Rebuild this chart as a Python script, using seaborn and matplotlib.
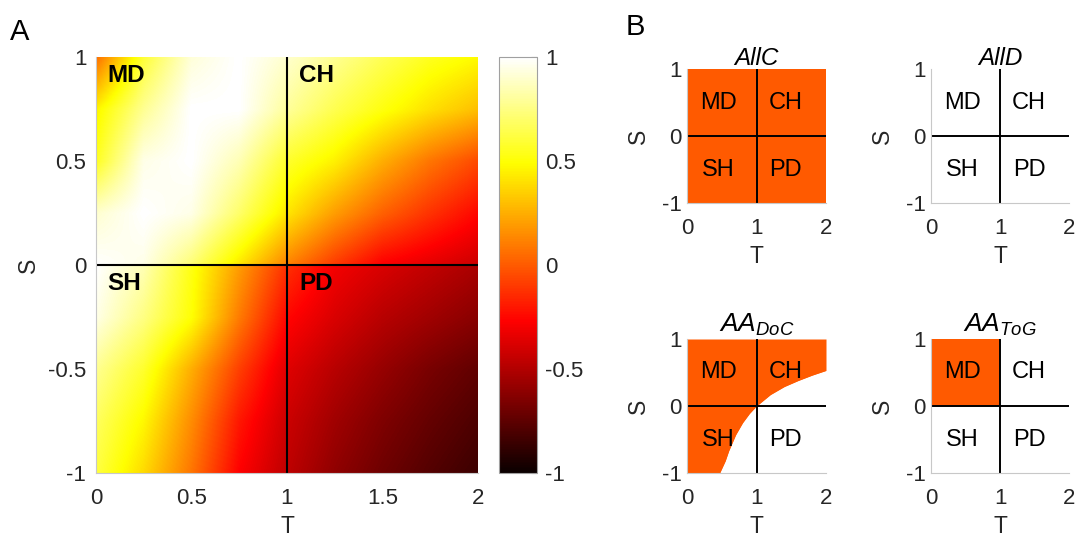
import numpy as np
import pandas as pd
import matplotlib
matplotlib.use("Agg")
import matplotlib.pyplot as plt
from matplotlib.patches import Rectangle
import seaborn as sns

# ---------------- data ----------------
T_nodes = [0.0, 0.25, 0.5, 0.75, 1.0, 1.25, 1.5, 1.75, 2.0]
S_upper = [0.0, 0.25, 0.5, 0.75, 1.0]
S_lower = [-1.0, -0.75, -0.5, -0.25, 0.0]

# values (rows = S, cols = T)
Z_upper = [
    [1.00, 0.95, 0.72, 0.42, 0.12, -0.10, -0.28, -0.35, -0.42],   # S = 0 (+)
    [0.90, 1.00, 0.95, 0.70, 0.42, 0.20, 0.02, -0.12, -0.25],     # S = 0.25
    [0.55, 0.95, 1.00, 0.85, 0.58, 0.45, 0.25, 0.08, -0.05],      # S = 0.5
    [0.45, 0.78, 1.00, 1.00, 0.80, 0.65, 0.52, 0.40, 0.30],       # S = 0.75
    [0.05, 0.60, 0.92, 1.00, 0.90, 0.78, 0.66, 0.55, 0.48],       # S = 1
]
Z_lower = [
    [0.62, 0.38, 0.08, -0.27, -0.46, -0.60, -0.70, -0.78, -0.85], # S = -1
    [0.68, 0.47, 0.15, -0.20, -0.42, -0.55, -0.65, -0.73, -0.80], # S = -0.75
    [0.78, 0.58, 0.25, -0.08, -0.36, -0.48, -0.58, -0.67, -0.74], # S = -0.5
    [0.95, 0.75, 0.50, 0.10, -0.25, -0.38, -0.48, -0.55, -0.62],  # S = -0.25
    [1.00, 0.85, 0.53, 0.20, -0.12, -0.30, -0.38, -0.45, -0.52],  # S = 0 (-)
]

quadrants = ["MD", "CH", "SH", "PD"]
cbar_ticks = [-1, -0.5, 0, 0.5, 1]
cbar_labels = ["-1", "-0.5", "0", "0.5", "1"]

panel_titles = ["AllC", "AllD", r"$AA_{DoC}$", r"$AA_{ToG}$"]
# which quadrants are filled (MD, CH, SH, PD)
allc_fill = [1, 1, 1, 1]
alld_fill = [0, 0, 0, 0]
tog_fill = [1, 0, 0, 0]
# AA_DoC boundary (lower edge of the filled region)
doc_T = [0.0, 0.47, 0.55, 0.6, 0.7, 0.8, 0.9, 1.0, 1.2, 1.4, 1.6, 1.8, 2.0]
doc_S = [-1.0, -1.0, -0.82, -0.67, -0.43, -0.25, -0.11, 0.0, 0.17, 0.29, 0.38, 0.46, 0.53]

# ---------------- style ----------------
sns.set_theme(style="white")
plt.rcParams["font.family"] = ["Liberation Sans", "DejaVu Sans"]
plt.rcParams["mathtext.fontset"] = "custom"
plt.rcParams["mathtext.it"] = "Liberation Sans:italic"
plt.rcParams["mathtext.rm"] = "Liberation Sans"
plt.rcParams["mathtext.bf"] = "Liberation Sans:bold"

TXT = "#262626"
SPINE = "#c8c8c8"
ORANGE = "#ff5a00"
FS_TICK = 16
FS_LAB = 16.5
FS_Q = 17

W, H = 1078, 540
fig = plt.figure(figsize=(W / 100, H / 100), dpi=100)


def rect(x0, y0, x1, y1):
    return [x0 / W, 1 - y1 / H, (x1 - x0) / W, (y1 - y0) / H]


def style_axes(ax, ypad=6):
    for side in ["top", "right"]:
        ax.spines[side].set_visible(False)
    for side in ["left", "bottom"]:
        ax.spines[side].set_color(SPINE)
        ax.spines[side].set_linewidth(0.8)
    ax.tick_params(axis="x", length=0, labelsize=FS_TICK, colors=TXT, pad=11)
    ax.tick_params(axis="y", length=0, labelsize=FS_TICK, colors=TXT, pad=ypad)
    ax.set_facecolor("white")


# ---------------- panel A ----------------
axA = fig.add_axes(rect(96, 57, 478, 473))
dT = T_nodes[1] - T_nodes[0]
dS = S_upper[1] - S_upper[0]
ims = []
for S_rows, Z, y0 in [(S_upper, Z_upper, 0), (S_lower, Z_lower, -1)]:
    im = axA.imshow(np.array(Z), origin="lower", cmap="hot", vmin=-1, vmax=1,
                    interpolation="bilinear", aspect="auto",
                    extent=[T_nodes[0] - dT / 2, T_nodes[-1] + dT / 2,
                            S_rows[0] - dS / 2, S_rows[-1] + dS / 2])
    im.set_clip_path(Rectangle((0, y0), 2, 1, transform=axA.transData))
    ims.append(im)
axA.axvline(1, color="black", lw=1.5)
axA.axhline(0, color="black", lw=1.5)
axA.set_xlim(0, 2)
axA.set_ylim(-1, 1)
axA.set_xticks([0, 0.5, 1, 1.5, 2])
axA.set_xticklabels(["0", "0.5", "1", "1.5", "2"])
axA.set_yticks([-1, -0.5, 0, 0.5, 1])
axA.set_yticklabels(["-1", "-0.5", "0", "0.5", "1"])
style_axes(axA, ypad=7)
axA.set_xlabel("T", fontsize=FS_LAB, color=TXT, labelpad=4)
axA.set_ylabel("S", fontsize=FS_LAB, color=TXT, labelpad=6)
posA = {"MD": (0.06, 0.91), "CH": (1.065, 0.91), "SH": (0.06, -0.09), "PD": (1.065, -0.09)}
for q in quadrants:
    axA.text(*posA[q], q, fontsize=FS_Q + 0.5, fontweight="bold", color="black",
             ha="left", va="center")

# colorbar
cax = fig.add_axes(rect(499, 57, 537, 473))
cb = fig.colorbar(ims[1], cax=cax, ticks=cbar_ticks)
cb.ax.set_yticklabels(cbar_labels)
cb.ax.tick_params(direction="in", length=4, width=0.8, color="#808080",
                  labelsize=FS_TICK, labelcolor=TXT, pad=6)
cb.outline.set_edgecolor("#a0a0a0")
cb.outline.set_linewidth(0.8)

fig.text(20 / W, 1 - 32 / H, "A", fontsize=21, color="black", ha="center", va="center")
fig.text(635 / W, 1 - 27 / H, "B", fontsize=21, color="black", ha="center", va="center")

# ---------------- panel B ----------------
rects_B = [rect(687, 69, 826, 203), rect(931, 69, 1069, 203),
           rect(687, 339, 826, 473), rect(931, 339, 1069, 473)]
quad_boxes = {"MD": (0, 1, 0, 1), "CH": (1, 2, 0, 1), "SH": (0, 1, -1, 0), "PD": (1, 2, -1, 0)}
label_pos = {"MD": (0.45, 0.5), "CH": (1.42, 0.5), "SH": (0.45, -0.5), "PD": (1.42, -0.5)}

for i, r in enumerate(rects_B):
    ax = fig.add_axes(r)
    ax.set_xlim(0, 2)
    ax.set_ylim(-1, 1)
    if i == 2:
        df = pd.DataFrame({"T": doc_T, "S": doc_S})
        ax.fill_between(df["T"], df["S"], 1, color=ORANGE, lw=0)
        sns.lineplot(data=df, x="T", y="S", ax=ax, color=ORANGE, lw=0.6)
    else:
        fills = [allc_fill, alld_fill, None, tog_fill][i]
        for q, f in zip(quadrants, fills):
            if f:
                x0, x1, y0, y1 = quad_boxes[q]
                ax.fill_between([x0, x1], [y0, y0], [y1, y1], color=ORANGE, lw=0)
    ax.axvline(1, color="black", lw=1.4)
    ax.axhline(0, color="black", lw=1.4)
    for q in quadrants:
        ax.text(*label_pos[q], q, fontsize=FS_Q, color="black", ha="center", va="center")
    ax.set_xticks([0, 1, 2])
    ax.set_xticklabels(["0", "1", "2"])
    ax.set_yticks([-1, 0, 1])
    ax.set_yticklabels(["-1", "0", "1"])
    style_axes(ax, ypad=4)
    ax.set_xlabel("T", fontsize=FS_LAB, color=TXT, labelpad=4)
    ax.set_ylabel("S", fontsize=FS_LAB, color=TXT, labelpad=8)
    title = panel_titles[i]
    if title.startswith("$"):
        ax.set_title(title, fontsize=19, color="black", pad=5)
    else:
        ax.set_title(title, fontsize=17.5, color="black", style="italic", pad=3)

fig.savefig("out.png", dpi=100)
